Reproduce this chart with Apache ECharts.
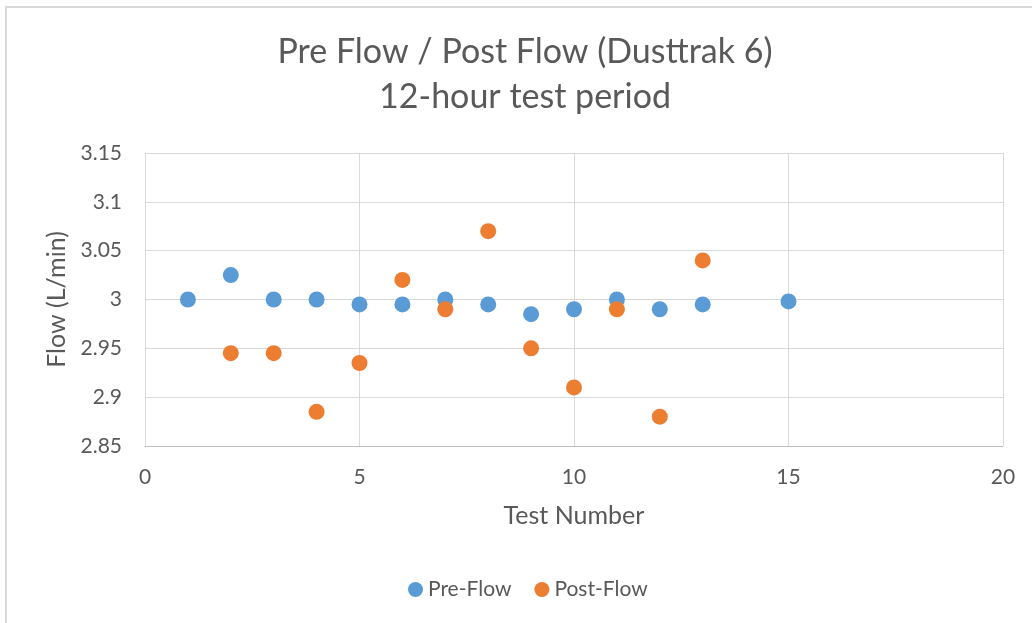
<!DOCTYPE html>
<html>
<head>
<meta charset="utf-8">
<title>Pre Flow / Post Flow</title>
<script src="https://cdn.jsdelivr.net/npm/echarts@6/dist/echarts.min.js"></script>
<style>
  html, body { margin: 0; padding: 0; background: #fff; }
  #main { width: 1032px; height: 623px; }
</style>
</head>
<body>
<div id="main"></div>
<script>
// test number of each point
const testNumbers = [1, 2, 3, 4, 5, 6, 7, 8, 9, 10, 11, 12, 13, 15]
const postTestNumbers = [2, 3, 4, 5, 6, 7, 8, 9, 10, 11, 12, 13]
// flow values (L/min)
const preFlow = [3.0, 3.025, 3.0, 3.0, 2.995, 2.995, 3.0, 2.995, 2.985, 2.99, 3.0, 2.99, 2.995, 2.998]
const postFlow = [2.945, 2.945, 2.885, 2.935, 3.02, 2.99, 3.07, 2.95, 2.91, 2.99, 2.88, 3.04]
// axis ranges
const xTicks = [0, 5, 10, 15, 20]
const yTicks = [2.85, 2.9, 2.95, 3, 3.05, 3.1, 3.15]

const textColor = '#595959'
const fontFamily = 'Lato'

const chart = echarts.init(document.getElementById('main'))

const option = {
  backgroundColor: '#fff',
  textStyle: { fontFamily: fontFamily },
  graphic: [{
    type: 'rect',
    shape: { x: 6, y: 7, width: 1200, height: 800 },
    style: { fill: 'none', stroke: '#D9D9D9', lineWidth: 2 },
    silent: true
  }],
  title: {
    text: 'Pre Flow / Post Flow (Dusttrak 6)\n12-hour test period',
    left: 525,
    top: 30,
    padding: 0,
    textAlign: 'center',
    textStyle: {
      color: textColor,
      fontFamily: fontFamily,
      fontWeight: 'normal',
      fontSize: 34,
      lineHeight: 45
    }
  },
  legend: {
    data: ['Pre-Flow', 'Post-Flow'],
    left: 403,
    top: 574,
    icon: 'circle',
    itemWidth: 15,
    itemHeight: 15,
    itemGap: 23,
    textStyle: { color: textColor, fontSize: 21, fontFamily: fontFamily }
  },
  grid: {
    left: 145,
    right: 29,
    top: 153,
    bottom: 177
  },
  xAxis: {
    type: 'value',
    min: xTicks[0],
    max: xTicks[xTicks.length - 1],
    interval: 5,
    name: 'Test Number',
    nameLocation: 'middle',
    nameGap: 57,
    nameTextStyle: { color: textColor, fontSize: 25, fontFamily: fontFamily },
    axisLine: { show: true, lineStyle: { color: '#BFBFBF', width: 1 } },
    axisTick: { show: false },
    axisLabel: { color: textColor, fontSize: 21, margin: 21 },
    splitLine: { show: true, lineStyle: { color: '#D9D9D9', width: 1 } }
  },
  yAxis: {
    type: 'value',
    min: yTicks[0],
    max: yTicks[yTicks.length - 1],
    interval: 0.05,
    name: 'Flow (L/min)',
    nameLocation: 'middle',
    nameGap: 75,
    nameTextStyle: { color: textColor, fontSize: 25, fontFamily: fontFamily },
    axisLine: { show: false },
    axisTick: { show: false },
    axisLabel: {
      color: textColor,
      fontSize: 21,
      margin: 23,
      formatter: v => String(+v.toFixed(2))
    },
    splitLine: { show: true, lineStyle: { color: '#D9D9D9', width: 1 } }
  },
  series: [
    {
      name: 'Pre-Flow',
      type: 'scatter',
      symbolSize: 16,
      itemStyle: { color: '#5B9BD5', opacity: 1 },
      data: testNumbers.map((t, i) => [t, preFlow[i]])
    },
    {
      name: 'Post-Flow',
      type: 'scatter',
      symbolSize: 16,
      itemStyle: { color: '#ED7D31', opacity: 1 },
      data: postTestNumbers.map((t, i) => [t, postFlow[i]])
    }
  ]
}

chart.setOption(option)
</script>
</body>
</html>
